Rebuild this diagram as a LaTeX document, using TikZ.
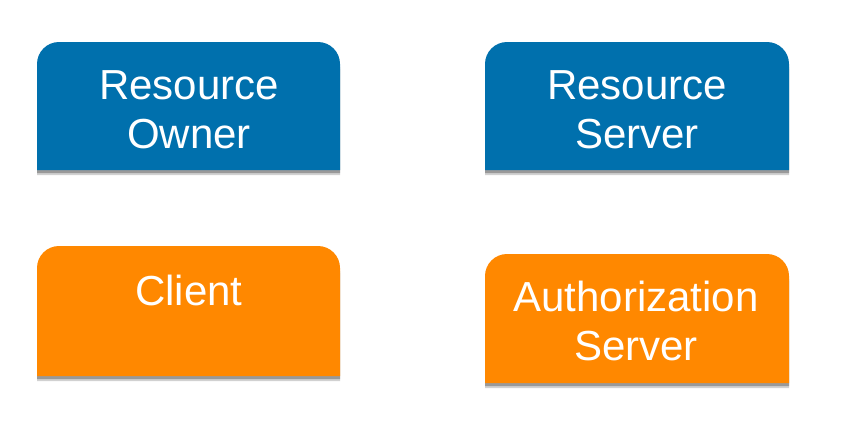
\documentclass[tikz,border=0pt]{standalone}
\usepackage{fontspec}
\setmainfont{Liberation Sans}
\usepackage{tikz}
\usetikzlibrary{shadows}
\definecolor{ownerblue}{RGB}{0,112,173}
\definecolor{clientorange}{RGB}{255,136,0}
\definecolor{shade}{RGB}{70,70,70}
% card with rounded top corners: #1 left, #2 top, #3 right, #4 bottom, #5 colour
\newcommand{\topcard}[5]{%
  \fill[#5,
    drop shadow={shadow xshift=0pt,shadow yshift=-2.6pt,fill=shade,opacity=.25},
    drop shadow={shadow xshift=0pt,shadow yshift=-1.6pt,fill=shade,opacity=.4}]
    (#1,#4) -- (#1,#2+22) arc[start angle=180,end angle=270,radius=22]
    -- (#3-22,#2) arc[start angle=270,end angle=360,radius=22] -- (#3,#4) -- cycle;}
\tikzset{
  label/.style={align=center,text=white,inner sep=0pt,font=\fontsize{21}{24.5}\selectfont}
}

\begin{document}
\begin{tikzpicture}[x=0.5pt,y=-0.5pt]
\useasboundingbox (0,0) rectangle (866,436);
\topcard{37}{42}{340}{170}{ownerblue}
\topcard{485}{42}{789}{170}{ownerblue}
\topcard{37}{246}{340}{376}{clientorange}
\topcard{485}{254}{789}{383}{clientorange}
\node[label] (owner) at (189,110) {Resource\\Owner};
\node[label] (rserver) at (637,110) {Resource\\Server};
\node[label] (client) at (189,290) {Client};
\node[label] (aserver) at (636,321) {Authorization\\Server};
\end{tikzpicture}
\end{document}
